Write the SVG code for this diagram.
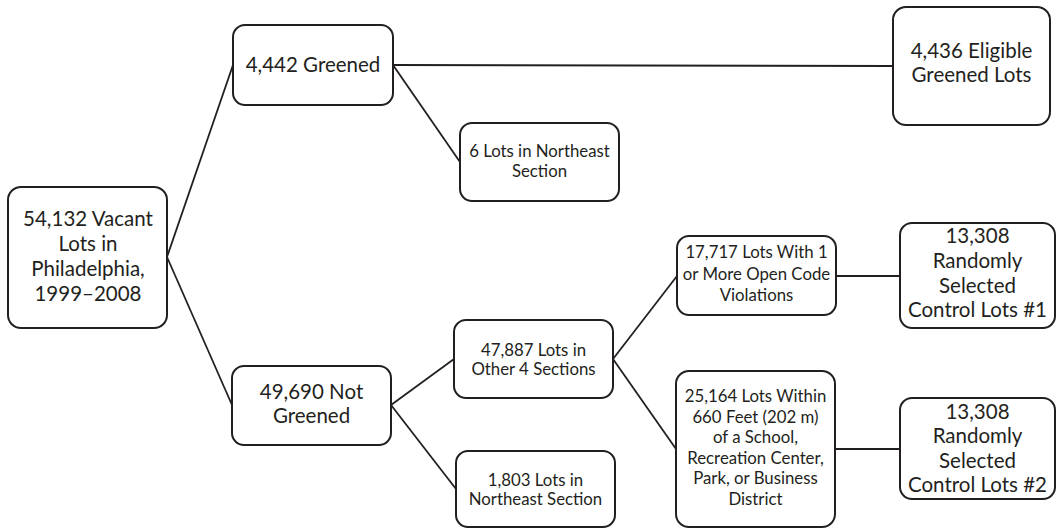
<svg xmlns="http://www.w3.org/2000/svg" width="1056" height="529" viewBox="0 0 1056 529">
<style>
.box{fill:#fff;stroke:#231f20;stroke-width:2}
.t{font-family:Lato,"Open Sans","Liberation Sans",sans-serif;fill:#231f20;text-anchor:middle}
.L{font-size:20.5px}
.S{font-size:16.8px}
.c{stroke:#231f20;stroke-width:1.8;fill:none}
</style>
<rect width="1056" height="529" fill="#fff"/>
<g id="connectors">
<line class="c" x1="167" y1="257" x2="233" y2="65"/>
<line class="c" x1="167" y1="257" x2="232" y2="405"/>
<line class="c" x1="393" y1="65" x2="893" y2="66"/>
<line class="c" x1="393" y1="65" x2="460" y2="162"/>
<line class="c" x1="391" y1="405" x2="454" y2="359"/>
<line class="c" x1="391" y1="405" x2="456" y2="489"/>
<line class="c" x1="613" y1="359" x2="677" y2="276"/>
<line class="c" x1="613" y1="359" x2="676" y2="449"/>
<line class="c" x1="836" y1="276" x2="900" y2="276"/>
<line class="c" x1="835" y1="449" x2="900" y2="449"/>
</g>
<g id="n1">
<rect class="box" x="8" y="187" width="159" height="141" rx="13"/>
<text class="t L" x="88" y="226">54,132 Vacant</text>
<text class="t L" x="88" y="251">Lots in</text>
<text class="t L" x="88" y="276">Philadelphia,</text>
<text class="t L" x="88" y="301">1999–2008</text>
</g>
<g id="n2">
<rect class="box" x="233" y="25" width="160" height="80" rx="12"/>
<text class="t L" x="313" y="72">4,442 Greened</text>
</g>
<g id="n3">
<rect class="box" x="460" y="123" width="159" height="78" rx="12"/>
<text class="t S" x="539.5" y="157">6 Lots in Northeast</text>
<text class="t S" x="539.5" y="177">Section</text>
</g>
<g id="n4">
<rect class="box" x="893" y="7" width="157" height="118" rx="13"/>
<text class="t L" x="971.5" y="58">4,436 Eligible</text>
<text class="t L" x="971.5" y="82">Greened Lots</text>
</g>
<g id="n5">
<rect class="box" x="232" y="366" width="159" height="79" rx="12"/>
<text class="t L" x="311.5" y="399">49,690 Not</text>
<text class="t L" x="311.5" y="423">Greened</text>
</g>
<g id="n6">
<rect class="box" x="454" y="320" width="159" height="78" rx="12"/>
<text class="t S" x="533.5" y="356">47,887 Lots in</text>
<text class="t S" x="533.5" y="375">Other 4 Sections</text>
</g>
<g id="n7">
<rect class="box" x="456" y="451" width="159" height="76" rx="12"/>
<text class="t S" x="535.5" y="486">1,803 Lots in</text>
<text class="t S" x="535.5" y="505">Northeast Section</text>
</g>
<g id="n8">
<rect class="box" x="677" y="236" width="159" height="79" rx="12"/>
<text class="t S" x="756.5" y="258">17,717 Lots With 1</text>
<text class="t S" x="756.5" y="280">or More Open Code</text>
<text class="t S" x="756.5" y="301">Violations</text>
</g>
<g id="n9">
<rect class="box" x="676" y="371" width="159" height="156" rx="13"/>
<text class="t S" x="755.5" y="402">25,164 Lots Within</text>
<text class="t S" x="755.5" y="422.5">660 Feet (202 m)</text>
<text class="t S" x="755.5" y="443">of a School,</text>
<text class="t S" x="755.5" y="463.5">Recreation Center,</text>
<text class="t S" x="755.5" y="484">Park, or Business</text>
<text class="t S" x="755.5" y="504.5">District</text>
</g>
<g id="n10">
<rect class="box" x="900" y="223" width="155" height="105" rx="12"/>
<text class="t L" x="977.5" y="243">13,308</text>
<text class="t L" x="977.5" y="268">Randomly</text>
<text class="t L" x="977.5" y="293">Selected</text>
<text class="t L" x="977.5" y="317">Control Lots #1</text>
</g>
<g id="n11">
<rect class="box" x="900" y="398" width="155" height="101" rx="12"/>
<text class="t L" x="977.5" y="418.5">13,308</text>
<text class="t L" x="977.5" y="443">Randomly</text>
<text class="t L" x="977.5" y="467.5">Selected</text>
<text class="t L" x="977.5" y="492">Control Lots #2</text>
</g>
</svg>
